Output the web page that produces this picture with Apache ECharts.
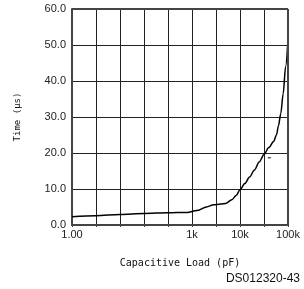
<!DOCTYPE html>
<html><head><meta charset="utf-8">
<script src="https://cdn.jsdelivr.net/npm/echarts@6/dist/echarts.min.js"></script>
<style>html,body{margin:0;padding:0;background:#fff}#c{width:304px;height:289px}</style>
</head><body><div id="c"></div>
<script>
// Capacitive load (pF) and time (µs)
const capacitancePF = [31.6, 100, 316, 1000, 3160, 7940, 12600, 20000, 28200, 39800, 50100, 67600, 83200, 100000, 126000, 158000, 200000, 251000, 316000, 398000, 501000, 575000, 631000, 708000, 794000, 891000, 1000000];
const timeUs =        [2.3, 2.6, 2.95, 3.2, 3.4, 3.5, 4.0, 5.0, 5.6, 5.8, 6.0, 7.0, 8.2, 9.8, 11.5, 13.3, 15.3, 17.5, 19.6, 21.5, 23.2, 25.0, 27.5, 31.0, 36.5, 44.0, 51.5];
const xTickPos = [0.5, 3, 4, 5];
const xTickLabels = ["1.00", "1k", "10k", "100k"];
const yTicks = [0, 10, 20, 30, 40, 50, 60];

const data = capacitancePF.map((c, i) => [Math.log10(c) - 1, timeUs[i]]);
const chart = echarts.init(document.getElementById('c'));
const gridColor = '#222';
chart.setOption({
  animation: false,
  grid: {left: 72, right: 16, top: 9, bottom: 64},
  xAxis: {
    type: 'value', min: 0.5, max: 5, interval: 0.5,
    name: 'Capacitive Load (pF)', nameLocation: 'middle', nameGap: 33,
    nameTextStyle: {fontFamily: 'DejaVu Sans Mono', fontSize: 10, color: '#111'},
    axisLine: {show: true, lineStyle: {color: '#444', width: 2}},
    axisTick: {show: true, length: 2, inside: false, lineStyle: {color: '#444'}},
    splitLine: {show: true, lineStyle: {color: gridColor, width: 1}},
    axisLabel: {
      fontFamily: 'Liberation Sans', fontSize: 11, color: '#222', margin: 4,
      showMinLabel: true, showMaxLabel: true,
      formatter: v => { const i = xTickPos.findIndex(p => Math.abs(p - v) < 1e-6); return i >= 0 ? xTickLabels[i] : ''; }
    }
  },
  yAxis: {
    type: 'value', min: yTicks[0], max: yTicks[yTicks.length - 1], interval: 10,
    name: 'Time (µs)', nameLocation: 'middle', nameGap: 50, nameRotate: 90,
    nameTextStyle: {fontFamily: 'DejaVu Sans Mono', fontSize: 9, color: '#111'},
    axisLine: {show: true, lineStyle: {color: '#444', width: 2}},
    axisTick: {show: false},
    splitLine: {show: true, lineStyle: {color: gridColor, width: 1}},
    axisLabel: {fontFamily: 'Liberation Sans', fontSize: 11, color: '#222', margin: 6, formatter: v => v.toFixed(1)}
  },
  series: [{
    type: 'line', data: data, smooth: 0.3, smoothMonotone: 'x', showSymbol: false,
    lineStyle: {color: '#000', width: 1.5}, clip: false
  }, {
    type: 'line', data: [], markLine: {silent: true, symbol: 'none', label: {show: false},
      lineStyle: {color: '#444', width: 2, type: 'solid'},
      data: [{xAxis: 5}, {yAxis: 60}]}
  }],
  graphic: [{
    type: 'text', right: 4, top: 273,
    style: {text: 'DS012320-43', font: '10px "Liberation Sans"', fill: '#111'}
  }]
});
const p = chart.convertToPixel({gridIndex: 0}, [4.58, 18.8]);
chart.setOption({graphic: [{}, {type: 'rect', shape: {x: p[0], y: p[1], width: 3, height: 1}, style: {fill: '#000'}}]});
</script></body></html>
